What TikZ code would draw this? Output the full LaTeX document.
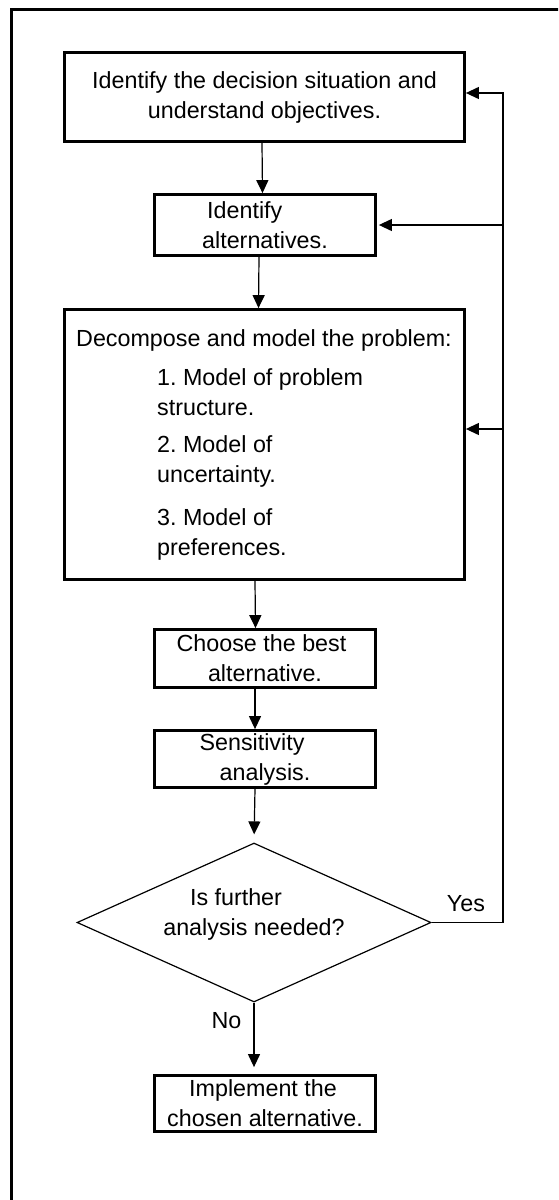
\documentclass[tikz,border=0pt]{standalone}
\usepackage{fontspec}
\setmainfont{Liberation Sans}
\usetikzlibrary{shapes.geometric,arrows.meta,calc}
\frenchspacing
\begin{document}
\begin{tikzpicture}[x=1pt,y=-1pt,
  txt/.style={inner sep=0pt,font=\fontsize{23.3}{30}\selectfont},
  box/.style={txt,draw,line width=2.8pt,align=center},
  decbox/.style={draw,line width=1.2pt,shape=diamond,inner sep=0pt,minimum width=354pt,minimum height=159pt},
  arr/.style={-{Triangle[length=13pt,width=12pt]},line width=1.2pt},
  conn/.style={line width=1.2pt}]
\useasboundingbox (0,0) rectangle (558,1200);
\clip (0,0) rectangle (558,1200);
% frame
\draw[line width=2.8pt] (11.5,1220) -- (11.5,9.7) -- (580,9.7);
% boxes
\node[box,minimum width=400pt,minimum height=89pt] (b1) at (264.5,97)
  {Identify the decision situation and\\understand objectives.};
\node[box,minimum width=221pt,minimum height=61pt,align=left] (b2) at (265,225)
  {\hspace*{5pt}Identify\\alternatives.};
\node[box,minimum width=400pt,minimum height=270pt] (b3) at (264.5,444.5) {};
\node[txt] (b3t) at (264,340) {Decompose and model the problem:};
\node[txt,anchor=west,align=left] (i1) at (157,392) {1. Model of problem\\structure.};
\node[txt,anchor=west,align=left] (i2) at (157,461.5) {2. Model of\\uncertainty.};
\node[txt,anchor=west,align=left] (i3) at (157,534.5) {3. Model of\\preferences.};
\node[box,minimum width=221pt,minimum height=58pt] (b4) at (265,658.5)
  {\hspace*{-7pt}Choose the best\\alternative.};
\node[box,minimum width=221pt,minimum height=57pt] (b5) at (265,759)
  {\hspace*{-26pt}Sensitivity\\analysis.};
\node[decbox] (dec) at (254,922.5) {};
\node[txt,align=center] (dect) at (254,914.5) {\hspace*{-36pt}Is further\\analysis needed?};
\node[box,minimum width=221pt,minimum height=56pt] (b6) at (265,1103.5)
  {\hspace*{-4pt}Implement the\\chosen alternative.};
% labels
\node[txt] (yes) at (466,904) {Yes};
\node[txt] (no) at (226.5,1021) {No};
% connectors
\draw[arr] ([xshift=-2.5pt]b1.south) -- ([xshift=-2.5pt]b2.north);
\draw[arr] ([xshift=-6pt]b2.south) -- ([xshift=-6pt]b3.north);
\draw[arr] ([xshift=-9.5pt]b3.south) -- ([xshift=-9.5pt]b4.north);
\draw[arr] ([xshift=-10pt]b4.south) -- ([xshift=-10pt]b5.north);
\draw[arr,shorten >=8pt] ([xshift=-10pt]b5.south) -- (dec.north);
\draw[arr,shorten >=7pt] (dec.south) -- (dec.south |- b6.north);
\coordinate (fb) at (503,922.5);
\coordinate (fb1) at (503,93);
\coordinate (fb3) at (503,429);
\draw[arr] (dec.east) -- (fb) -- (fb1) -- (fb1 -| b1.east);
\draw[arr] (fb1 |- b2.east) -- ([xshift=2pt]b2.east);
\draw[arr] (fb3) -- (fb3 -| b3.east);
\end{tikzpicture}
\end{document}
